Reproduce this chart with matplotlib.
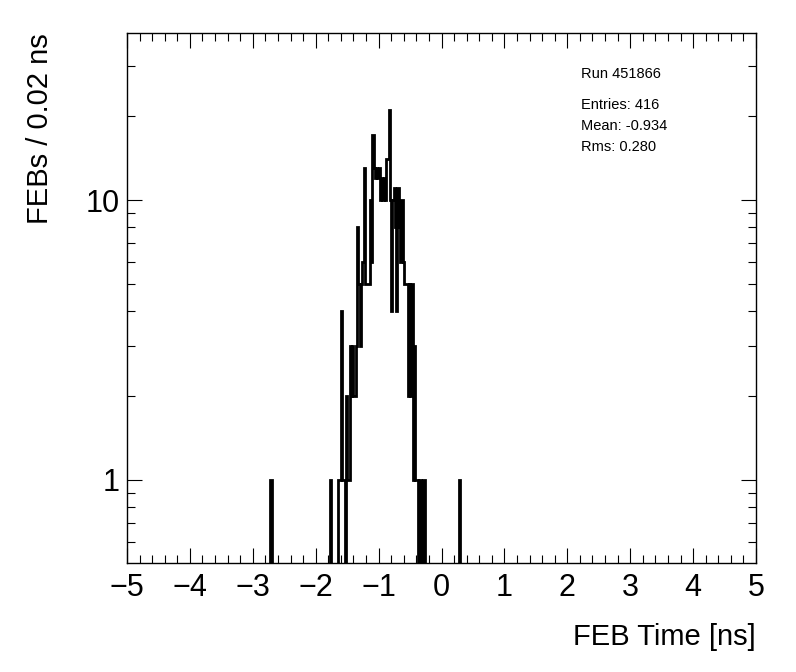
import numpy as np
import matplotlib
matplotlib.use("Agg")
import matplotlib.pyplot as plt
from matplotlib.ticker import LogLocator, FixedLocator, NullFormatter, MultipleLocator

plt.rcParams['font.family'] = ['Liberation Sans', 'DejaVu Sans']

# ---- data ----
bin_width = 0.02
x_range = (-5.0, 5.0)
core_start = -1.78   # left edge of first bin of contiguous block
core_counts = [1, 0, 0, 0, 0, 0, 0,
               1, 1, 4, 1, 1, 0,
               2, 1, 1, 3, 2, 3, 2, 2, 3,
               8, 5, 3, 5, 6, 13, 5, 5, 5, 5, 10, 6,
               17, 13, 12, 13, 12, 13, 10, 12, 10, 12, 10, 14, 14, 21, 10,
               4, 10, 11, 8, 4, 11, 8, 6, 10, 6,
               5, 5, 5, 2, 5, 2, 5, 1, 3, 1, 1, 0, 1, 1, 0, 1, 1]
isolated_edges = [-2.72, 0.28]
isolated_counts = [1, 1]

run_text = "Run 451866"
stats_lines = ["Entries: 416", "Mean: -0.934", "Rms: 0.280"]
x_label = "FEB Time [ns]"
y_label = "FEBs / 0.02 ns"

# ---- build histogram ----
nbins = int(round((x_range[1] - x_range[0]) / bin_width))
edges = np.linspace(x_range[0], x_range[1], nbins + 1)
counts = np.zeros(nbins)
i0 = int(round((core_start - x_range[0]) / bin_width))
counts[i0:i0 + len(core_counts)] = core_counts
for e, c in zip(isolated_edges, isolated_counts):
    counts[int(round((e - x_range[0]) / bin_width))] = c
plot_vals = np.where(counts > 0, counts, 1e-3)

W, H = 796, 672
fig = plt.figure(figsize=(W / 100, H / 100), dpi=100)
ax = fig.add_axes([127 / W, (H - 563) / H, (756 - 127) / W, (563 - 33) / H])

ax.stairs(plot_vals, edges, color='black', linewidth=2.0, baseline=None)
ax.set_yscale('log')
ax.set_xlim(*x_range)
ax.set_ylim(0.505, 39.5)

ax.xaxis.set_major_locator(MultipleLocator(1))
ax.xaxis.set_minor_locator(MultipleLocator(0.2))
ax.yaxis.set_major_locator(FixedLocator([1, 10]))
ax.yaxis.set_minor_locator(LogLocator(base=10, subs=np.arange(2, 10), numticks=20))
ax.yaxis.set_minor_formatter(NullFormatter())
ax.set_yticklabels(["1", "10"])

ax.tick_params(which='both', direction='in', top=True, right=True, width=0.8, colors='black')
ax.tick_params(axis='x', which='major', length=11, labelsize=22, pad=7)
ax.tick_params(axis='x', which='minor', length=5.5)
ax.tick_params(axis='y', which='major', length=11, labelsize=22, pad=5)
ax.tick_params(axis='y', which='minor', length=5.5)
for s in ax.spines.values():
    s.set_linewidth(1.0)

fig.text(756 / W, (H - 637) / H, x_label, ha='right', va='center', fontsize=21)
fig.text(40 / W, (H - 33) / H, y_label, ha='center', va='top', rotation=90, fontsize=21)

ax.text(581 / W, (H - 74) / H, run_text, transform=fig.transFigure, ha='left', va='center', fontsize=10.5)
for k, line in enumerate(stats_lines):
    ax.text(581 / W, (H - (105 + 21 * k)) / H, line, transform=fig.transFigure,
            ha='left', va='center', fontsize=10.5)

fig.savefig("out.png", dpi=100)
